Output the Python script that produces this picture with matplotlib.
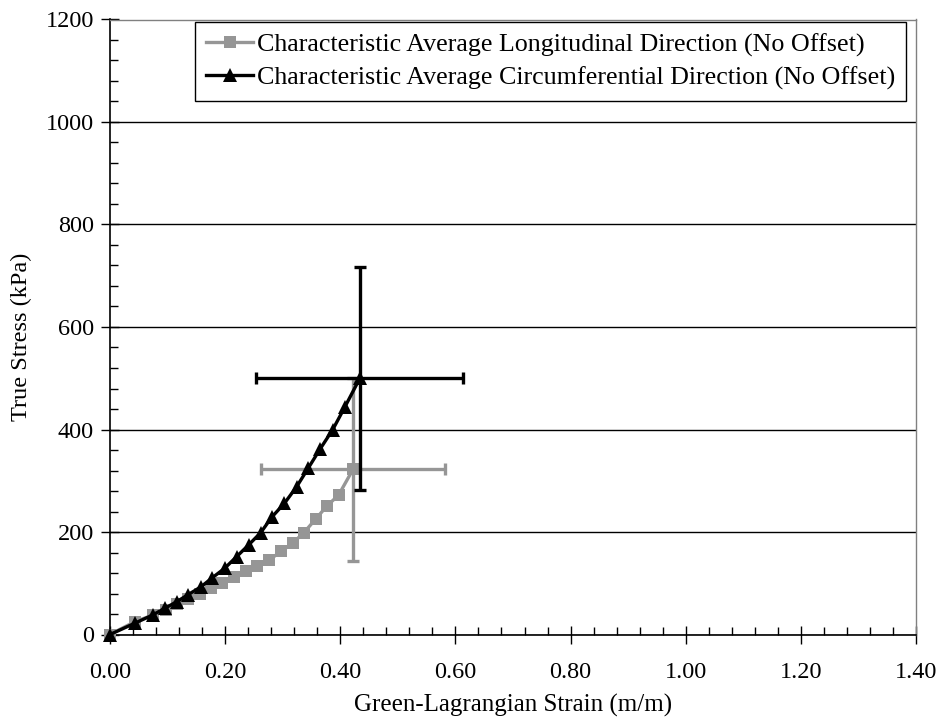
import matplotlib
matplotlib.use("Agg")
import matplotlib.pyplot as plt
from matplotlib.ticker import MultipleLocator, FormatStrFormatter

plt.rcParams['font.family'] = ['Liberation Serif', 'DejaVu Serif']

# Longitudinal direction (grey squares)
long_strain = [0.000, 0.043, 0.075, 0.097, 0.117, 0.136, 0.156, 0.175, 0.195, 0.215,
               0.236, 0.255, 0.276, 0.297, 0.317, 0.337, 0.357, 0.377, 0.397, 0.422]
long_stress = [0, 25, 38, 48, 59, 69, 80, 90, 101, 113,
               123, 134, 145, 162, 178, 199, 225, 251, 272, 322]
long_xerr = 0.16
long_yerr = 178

# Circumferential direction (black triangles)
circ_strain = [0.000, 0.043, 0.074, 0.095, 0.116, 0.136, 0.158, 0.178, 0.199, 0.220,
               0.241, 0.262, 0.281, 0.303, 0.324, 0.344, 0.365, 0.387, 0.408, 0.434]
circ_stress = [0, 22, 38, 51, 64, 78, 93, 111, 129, 152,
               175, 199, 229, 256, 288, 324, 362, 400, 444, 500]
circ_xerr = 0.18
circ_yerr = 218

labels = ["Characteristic Average Longitudinal Direction (No Offset)",
          "Characteristic Average Circumferential Direction (No Offset)"]

GREY = '#969696'

fig = plt.figure(figsize=(9.43, 7.25), dpi=100)
ax = fig.add_axes([110 / 943, 90.5 / 725, 806 / 943, 615 / 725])

ax.set_xlim(0, 1.4)
ax.set_ylim(0, 1200)

ax.yaxis.grid(True, which='major', color='black', linewidth=1.0, zorder=0)
ax.set_axisbelow(True)

# Error bars at the final point of each series
ax.errorbar(long_strain[-1], long_stress[-1], xerr=long_xerr, yerr=long_yerr,
            fmt='none', ecolor=GREY, elinewidth=2.4, capsize=4.5, capthick=2.4, zorder=3)
ax.errorbar(circ_strain[-1], circ_stress[-1], xerr=circ_xerr, yerr=circ_yerr,
            fmt='none', ecolor='black', elinewidth=2.4, capsize=4.5, capthick=2.4, zorder=5)

l1, = ax.plot(long_strain, long_stress, color=GREY, linewidth=2.4, marker='s',
              markersize=8, markeredgewidth=0, zorder=4, clip_on=False)
l2, = ax.plot(circ_strain, circ_stress, color='black', linewidth=2.4, marker='^',
              markersize=10, markeredgewidth=0, zorder=6, clip_on=False)

ax.xaxis.set_major_locator(MultipleLocator(0.2))
ax.xaxis.set_minor_locator(MultipleLocator(0.04))
ax.xaxis.set_major_formatter(FormatStrFormatter('%.2f'))
ax.yaxis.set_major_locator(MultipleLocator(200))
ax.yaxis.set_minor_locator(MultipleLocator(40))

ax.tick_params(axis='both', which='major', direction='inout', length=13, width=1,
               labelsize=17.5, color='black')
ax.tick_params(axis='both', which='minor', direction='in', length=6, width=1, color='black')
ax.tick_params(axis='x', which='major', pad=13)
ax.tick_params(axis='y', which='major', pad=5)

for side in ('left', 'bottom'):
    ax.spines[side].set_color('black')
    ax.spines[side].set_linewidth(1.2)
for side in ('top', 'right'):
    ax.spines[side].set_color('#808080')
    ax.spines[side].set_linewidth(1.0)

ax.set_xlabel("Green-Lagrangian Strain (m/m)", fontsize=18, labelpad=8)
ax.set_ylabel("True Stress (kPa)", fontsize=17.5, va='center')
ax.yaxis.set_label_coords((21 - 110) / 806, 0.484)

leg = ax.legend([l1, l2], labels, loc='upper right',
                bbox_to_anchor=(0.9876, 0.9959), fontsize=18.7,
                frameon=True, fancybox=False, framealpha=1, edgecolor='black',
                handlelength=1.8, handletextpad=0.15, borderpad=0.42,
                labelspacing=0.38, borderaxespad=0)
leg.get_frame().set_linewidth(1.0)
leg.set_zorder(10)

fig.savefig("out.png", dpi=100)
